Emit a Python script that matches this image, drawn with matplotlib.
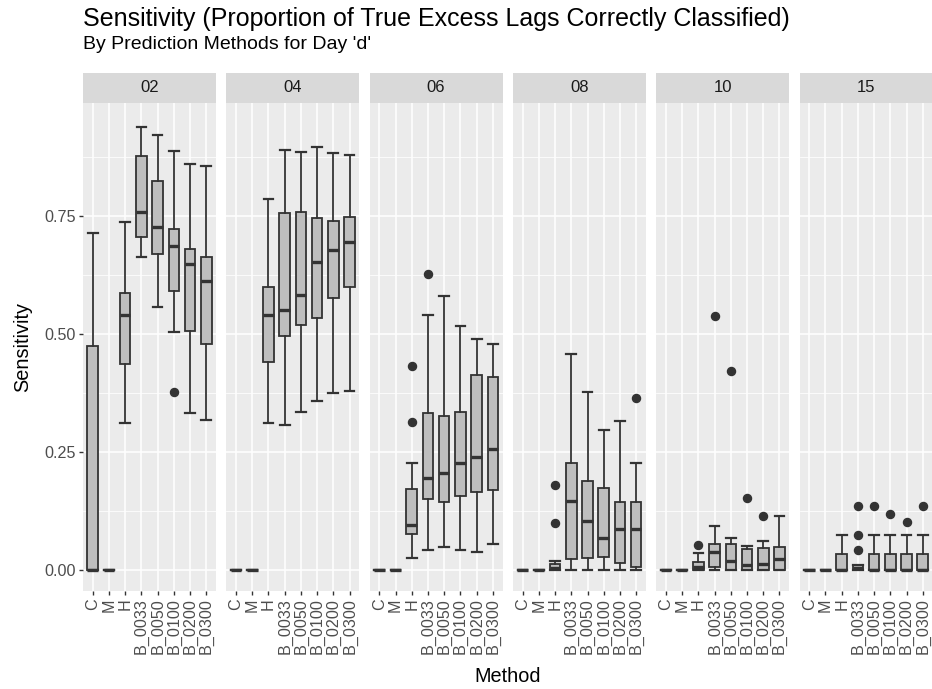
import matplotlib
matplotlib.use("Agg")
import matplotlib.pyplot as plt
from matplotlib.ticker import MultipleLocator

plt.rcParams["font.family"] = ["Liberation Sans", "DejaVu Sans"]

methods = ["C", "M", "H", "B_0033", "B_0050", "B_0100", "B_0200", "B_0300"]
days = ["02", "04", "06", "08", "10", "15"]

# Box-plot summaries per day (rows) and method (columns)
whisker_lo = [
    [0.000, 0.000, 0.312, 0.662, 0.557, 0.503, 0.333, 0.318],
    [0.000, 0.000, 0.312, 0.307, 0.335, 0.357, 0.375, 0.379],
    [0.000, 0.000, 0.025, 0.042, 0.049, 0.042, 0.039, 0.055],
    [0.000, 0.000, 0.000, 0.000, 0.000, 0.000, 0.000, 0.000],
    [0.000, 0.000, 0.000, 0.000, 0.000, 0.000, 0.000, 0.000],
    [0.000, 0.000, 0.000, 0.000, 0.000, 0.000, 0.000, 0.000],
]
quart_1 = [
    [0.000, 0.000, 0.436, 0.706, 0.669, 0.591, 0.506, 0.479],
    [0.000, 0.000, 0.440, 0.496, 0.518, 0.533, 0.577, 0.600],
    [0.000, 0.000, 0.076, 0.150, 0.143, 0.157, 0.166, 0.169],
    [0.000, 0.000, 0.000, 0.023, 0.026, 0.027, 0.014, 0.007],
    [0.000, 0.000, 0.000, 0.007, 0.000, 0.000, 0.000, 0.000],
    [0.000, 0.000, 0.000, 0.000, 0.000, 0.000, 0.000, 0.000],
]
median = [
    [0.000, 0.000, 0.540, 0.759, 0.726, 0.686, 0.648, 0.611],
    [0.000, 0.000, 0.540, 0.550, 0.583, 0.652, 0.677, 0.694],
    [0.000, 0.000, 0.095, 0.194, 0.205, 0.227, 0.240, 0.256],
    [0.000, 0.000, 0.004, 0.146, 0.104, 0.068, 0.086, 0.086],
    [0.000, 0.000, 0.007, 0.039, 0.020, 0.011, 0.013, 0.023],
    [0.000, 0.000, 0.000, 0.004, 0.000, 0.000, 0.000, 0.000],
]
quart_3 = [
    [0.475, 0.000, 0.586, 0.877, 0.824, 0.722, 0.679, 0.662],
    [0.000, 0.000, 0.600, 0.756, 0.758, 0.745, 0.740, 0.748],
    [0.000, 0.000, 0.171, 0.333, 0.326, 0.335, 0.413, 0.408],
    [0.000, 0.000, 0.012, 0.226, 0.189, 0.174, 0.143, 0.143],
    [0.000, 0.000, 0.016, 0.055, 0.055, 0.044, 0.046, 0.049],
    [0.000, 0.000, 0.033, 0.010, 0.033, 0.033, 0.033, 0.033],
]
whisker_hi = [
    [0.713, 0.000, 0.738, 0.938, 0.922, 0.888, 0.860, 0.856],
    [0.000, 0.000, 0.786, 0.889, 0.886, 0.895, 0.883, 0.878],
    [0.000, 0.000, 0.227, 0.539, 0.581, 0.516, 0.489, 0.478],
    [0.000, 0.000, 0.019, 0.458, 0.378, 0.297, 0.316, 0.227],
    [0.000, 0.000, 0.037, 0.093, 0.068, 0.051, 0.061, 0.114],
    [0.000, 0.000, 0.074, 0.010, 0.074, 0.074, 0.074, 0.074],
]
outliers = [
    [[], [], [], [], [], [0.376], [], []],
    [[], [], [], [], [], [], [], []],
    [[], [], [0.431, 0.314], [0.627], [], [], [], []],
    [[], [], [0.179, 0.100], [], [], [], [], [0.364]],
    [[], [], [0.053], [0.537], [0.422], [0.153], [0.114], []],
    [[], [], [], [0.136, 0.074, 0.042], [0.136], [0.119], [0.101], [0.136]],
]

W, H = 932, 689
fig = plt.figure(figsize=(W / 100, H / 100), dpi=100)
fig.patch.set_facecolor("white")

panel_left = 83
panel_w = 133
panel_gap = 10.3
panel_top = 103
panel_bottom = 591
strip_h = 30

dark = "#333333"
tick_grey = "#4D4D4D"
positions = list(range(1, len(methods) + 1))

for p, day in enumerate(days):
    x0 = panel_left + p * (panel_w + panel_gap)
    ax = fig.add_axes([x0 / W, 1 - panel_bottom / H, panel_w / W,
                       (panel_bottom - panel_top) / H])
    ax.set_facecolor("#EBEBEB")
    for s in ax.spines.values():
        s.set_visible(False)
    ax.set_xlim(0.4, len(methods) + 0.6)
    ax.set_ylim(-0.0445, 0.989)
    ax.yaxis.set_major_locator(MultipleLocator(0.25))
    ax.yaxis.set_minor_locator(MultipleLocator(0.125))
    ax.grid(which="major", color="white", linewidth=1.1)
    ax.grid(which="minor", axis="y", color="white", linewidth=0.55)
    ax.set_axisbelow(True)

    stats = []
    for j, m in enumerate(methods):
        stats.append(dict(
            label=m,
            whislo=whisker_lo[p][j], q1=quart_1[p][j], med=median[p][j],
            q3=quart_3[p][j], whishi=whisker_hi[p][j], fliers=outliers[p][j],
        ))
    ax.bxp(
        stats, positions=positions, widths=0.65, capwidths=0.6,
        patch_artist=True, showfliers=True,
        boxprops=dict(facecolor="#BEBEBE", edgecolor=dark, linewidth=1.3),
        medianprops=dict(color=dark, linewidth=2.4, solid_capstyle="butt"),
        whiskerprops=dict(color=dark, linewidth=1.3),
        capprops=dict(color=dark, linewidth=1.6),
        flierprops=dict(marker="o", markersize=5.8, markerfacecolor=dark,
                        markeredgecolor=dark, linestyle="none"),
        manage_ticks=False,
    )
    ax.set_xticks(positions)
    ax.set_xticklabels(methods, rotation=90, fontsize=11.6, color=tick_grey)
    ax.set_yticks([0, 0.25, 0.5, 0.75])
    ax.tick_params(axis="both", which="major", length=3.2, width=1.0,
                   color=dark, pad=2)
    ax.tick_params(axis="both", which="minor", length=0)
    if p == 0:
        ax.set_yticklabels(["0.00", "0.25", "0.50", "0.75"],
                           fontsize=11.6, color=tick_grey)
    else:
        ax.tick_params(axis="y", which="major", length=0, labelleft=False)

    sax = fig.add_axes([x0 / W, 1 - panel_top / H, panel_w / W, strip_h / H])
    sax.set_facecolor("#D9D9D9")
    sax.set_xticks([])
    sax.set_yticks([])
    for s in sax.spines.values():
        s.set_visible(False)
    sax.text(0.5, 0.5, day, ha="center", va="center", fontsize=12,
             color="#1A1A1A", transform=sax.transAxes)

fig.text(83 / W, 1 - 26 / H, "Sensitivity (Proportion of True Excess Lags Correctly Classified)",
         fontsize=18, color="black", ha="left", va="baseline")
fig.text(83 / W, 1 - 49 / H, "By Prediction Methods for Day 'd'",
         fontsize=14, color="black", ha="left", va="baseline")
fig.text(23 / W, 1 - (panel_top + panel_bottom) / 2 / H, "Sensitivity",
         fontsize=14.3, rotation=90, ha="center", va="center")
fig.text((panel_left + (6 * panel_w + 5 * panel_gap) / 2) / W, 1 - 676 / H, "Method",
         fontsize=14.3, ha="center", va="center")

fig.savefig("out.png", dpi=100)
